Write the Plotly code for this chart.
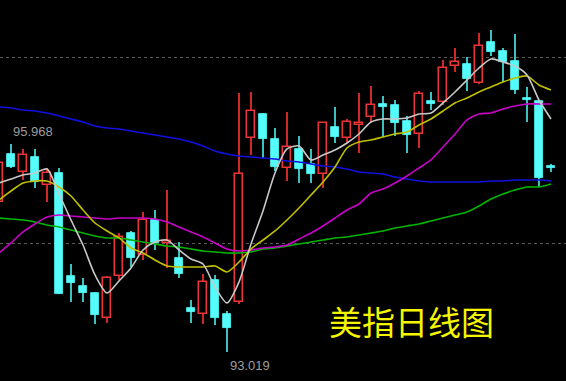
import plotly.graph_objects as go

# ---- data ----
IDX = list(range(-1, 46))

OPEN = [95.146, 95.827, 95.571, 95.784, 95.387, 95.557, 94.097, 93.955, 93.856, 93.501,
        94.097, 94.706, 94.395, 94.891, 94.565, 94.352, 93.643, 93.558, 94.040, 93.558,
        93.728, 96.053, 96.394, 96.039, 95.628, 95.898, 95.685, 95.543, 96.209, 96.053,
        96.238, 96.351, 96.536, 96.521, 96.294, 96.110, 96.578, 96.564, 97.074, 97.103,
        96.833, 97.415, 97.287, 97.145, 96.621, 96.578, 95.656]
HIGH = [95.742, 95.968, 95.898, 95.898, 95.628, 95.628, 94.267, 94.069, 93.870, 94.097,
        94.706, 94.735, 95.004, 95.033, 95.316, 94.579, 93.757, 94.125, 94.111, 93.601,
        96.691, 96.706, 96.408, 96.195, 96.422, 96.082, 95.898, 96.280, 96.493, 96.323,
        96.691, 96.791, 96.649, 96.592, 96.365, 96.720, 96.706, 97.159, 97.329, 97.202,
        97.542, 97.585, 97.329, 97.528, 96.777, 96.578, 95.685]
LOW = [95.104, 95.628, 95.458, 95.345, 95.146, 93.835, 93.728, 93.728, 93.416, 93.431,
       94.040, 94.225, 94.324, 94.466, 94.210, 94.069, 93.431, 93.416, 93.402, 93.019,
       93.700, 95.812, 95.770, 95.586, 95.444, 95.415, 95.415, 95.345, 95.983, 95.983,
       95.841, 96.280, 96.068, 96.082, 95.841, 95.912, 96.450, 96.521, 96.989, 96.720,
       96.819, 97.216, 96.847, 96.677, 96.280, 95.359, 95.571]
CLOSE = [95.699, 95.642, 95.812, 95.430, 95.557, 93.842, 93.998, 93.856, 93.544, 94.069,
         94.650, 94.352, 94.891, 94.565, 94.593, 94.125, 93.586, 94.012, 93.501, 93.360,
         95.543, 96.436, 96.039, 95.642, 95.926, 95.614, 95.543, 96.266, 96.068, 96.280,
         96.266, 96.521, 96.493, 96.266, 96.096, 96.677, 96.536, 97.046, 97.131, 96.890,
         97.358, 97.273, 97.131, 96.734, 96.592, 95.486, 95.628]

MA5 = [95.415, 95.472, 95.529, 95.557, 95.614, 95.260, 94.891, 94.536, 94.111, 93.856,
       94.026, 94.210, 94.466, 94.579, 94.607, 94.466, 94.338, 94.267, 93.941, 93.714,
       94.012, 94.551, 95.018, 95.557, 95.898, 95.940, 95.742, 95.812, 95.883, 95.983,
       96.110, 96.280, 96.323, 96.323, 96.337, 96.394, 96.408, 96.550, 96.706, 96.876,
       97.046, 97.174, 97.131, 97.074, 96.947, 96.592, 96.323]
MA10 = [95.174, 95.302, 95.415, 95.444, 95.444, 95.359, 95.231, 95.033, 94.848, 94.735,
        94.636, 94.494, 94.423, 94.324, 94.239, 94.225, 94.225, 94.225, 94.239, 94.154,
        94.295, 94.480, 94.607, 94.735, 94.891, 95.061, 95.245, 95.430, 95.642, 95.912,
        95.997, 96.025, 96.068, 96.110, 96.139, 96.238, 96.323, 96.436, 96.550, 96.621,
        96.706, 96.777, 96.847, 96.904, 96.932, 96.805, 96.734]
MA20 = [94.423, 94.565, 94.721, 94.834, 94.933, 94.962, 94.948, 94.933, 94.919, 94.905,
        94.919, 94.919, 94.919, 94.905, 94.862, 94.792, 94.721, 94.650, 94.565, 94.480,
        94.451, 94.466, 94.494, 94.508, 94.536, 94.621, 94.706, 94.806, 94.919, 95.033,
        95.118, 95.274, 95.330, 95.415, 95.515, 95.628, 95.742, 95.926, 96.110, 96.309,
        96.394, 96.408, 96.465, 96.507, 96.536, 96.536, 96.536]
MA60 = [96.493, 96.479, 96.450, 96.436, 96.408, 96.365, 96.323, 96.280, 96.224, 96.195,
        96.181, 96.153, 96.124, 96.096, 96.068, 96.039, 95.997, 95.940, 95.869, 95.827,
        95.798, 95.784, 95.770, 95.756, 95.727, 95.713, 95.685, 95.656, 95.642, 95.614,
        95.571, 95.557, 95.543, 95.500, 95.472, 95.444, 95.430, 95.430, 95.430, 95.430,
        95.430, 95.444, 95.444, 95.458, 95.458, 95.458, 95.444]
MA120 = [94.919, 94.905, 94.891, 94.862, 94.820, 94.792, 94.749, 94.706, 94.664, 94.636,
         94.636, 94.607, 94.579, 94.551, 94.522, 94.508, 94.480, 94.451, 94.437, 94.423,
         94.423, 94.437, 94.480, 94.494, 94.522, 94.551, 94.579, 94.607, 94.636, 94.650,
         94.678, 94.706, 94.735, 94.777, 94.806, 94.834, 94.877, 94.919, 94.962, 95.004,
         95.089, 95.189, 95.260, 95.316, 95.359, 95.359, 95.401]

GRID_LEVELS = [97.195, 94.551]
TITLE = "美指日线图"

# ---- styles ----
UP_LINE = "#EE3434"
UP_WICK = "#D02828"
DN_FILL = "#54FCFC"
DN_WICK = "#3CC0C0"

up = [i for i in range(len(IDX)) if CLOSE[i] >= OPEN[i]]
dn = [i for i in range(len(IDX)) if CLOSE[i] < OPEN[i]]

fig = go.Figure()


def wick(ids, color):
    fig.add_trace(go.Bar(
        x=[IDX[i] for i in ids],
        y=[HIGH[i] - LOW[i] for i in ids],
        base=[LOW[i] for i in ids],
        width=0.12, marker=dict(color=color, line=dict(width=0)),
        hoverinfo="skip"))


def body(ids, fill, line, lw):
    fig.add_trace(go.Bar(
        x=[IDX[i] for i in ids],
        y=[abs(CLOSE[i] - OPEN[i]) for i in ids],
        base=[min(OPEN[i], CLOSE[i]) for i in ids],
        width=0.66, marker=dict(color=fill, line=dict(color=line, width=lw)),
        hoverinfo="skip"))


wick(up, UP_WICK)
wick(dn, DN_WICK)
body(up, "#000000", UP_LINE, 1.5)
body(dn, DN_FILL, DN_FILL, 0.8)

for vals, color in [(MA120, "#00B400"), (MA60, "#1010E0"), (MA20, "#C800C8"),
                    (MA10, "#C0C000"), (MA5, "#C8C8C8")]:
    fig.add_trace(go.Scatter(x=IDX, y=vals, mode="lines",
                             line=dict(color=color, width=1.6, shape="spline", smoothing=0.7),
                             hoverinfo="skip"))

hi_i = IDX.index(0)
lo_i = LOW.index(min(LOW))

fig.update_layout(
    width=566, height=381,
    margin=dict(l=0, r=0, t=0, b=0),
    paper_bgcolor="#000000", plot_bgcolor="#000000",
    barmode="overlay", bargap=0, showlegend=False,
    xaxis=dict(range=[-0.9167, 46.25], visible=False, showgrid=False, zeroline=False),
    yaxis=dict(range=[92.608, 98.010], tickvals=GRID_LEVELS, showticklabels=False,
               showgrid=True, gridcolor="#5A5A5A", griddash="dot", gridwidth=1,
               zeroline=False, showline=False),
    annotations=[
        dict(x=IDX[hi_i], y=HIGH[hi_i], text=f"{HIGH[hi_i]:.3f}", showarrow=False,
             xanchor="left", yanchor="bottom", xshift=0, yshift=3,
             font=dict(family="Liberation Sans, Arial", size=13, color="#9C9C9C")),
        dict(x=IDX[lo_i], y=LOW[lo_i], text=f"{LOW[lo_i]:.3f}", showarrow=False,
             xanchor="left", yanchor="top", xshift=1, yshift=-4,
             font=dict(family="Liberation Sans, Arial", size=13, color="#9C9C9C")),
        dict(x=0.727, y=0.157, xref="paper", yref="paper", text=TITLE, showarrow=False,
             xanchor="center", yanchor="middle",
             font=dict(family="Noto Sans CJK SC", size=33, color="#F5F500")),
    ],
)

fig.write_html(
    "out.html",
    config={"displayModeBar": False},
    post_script="document.body.style.margin='0px';document.body.style.background='#000';"
                "document.body.style.overflow='hidden';",
)
